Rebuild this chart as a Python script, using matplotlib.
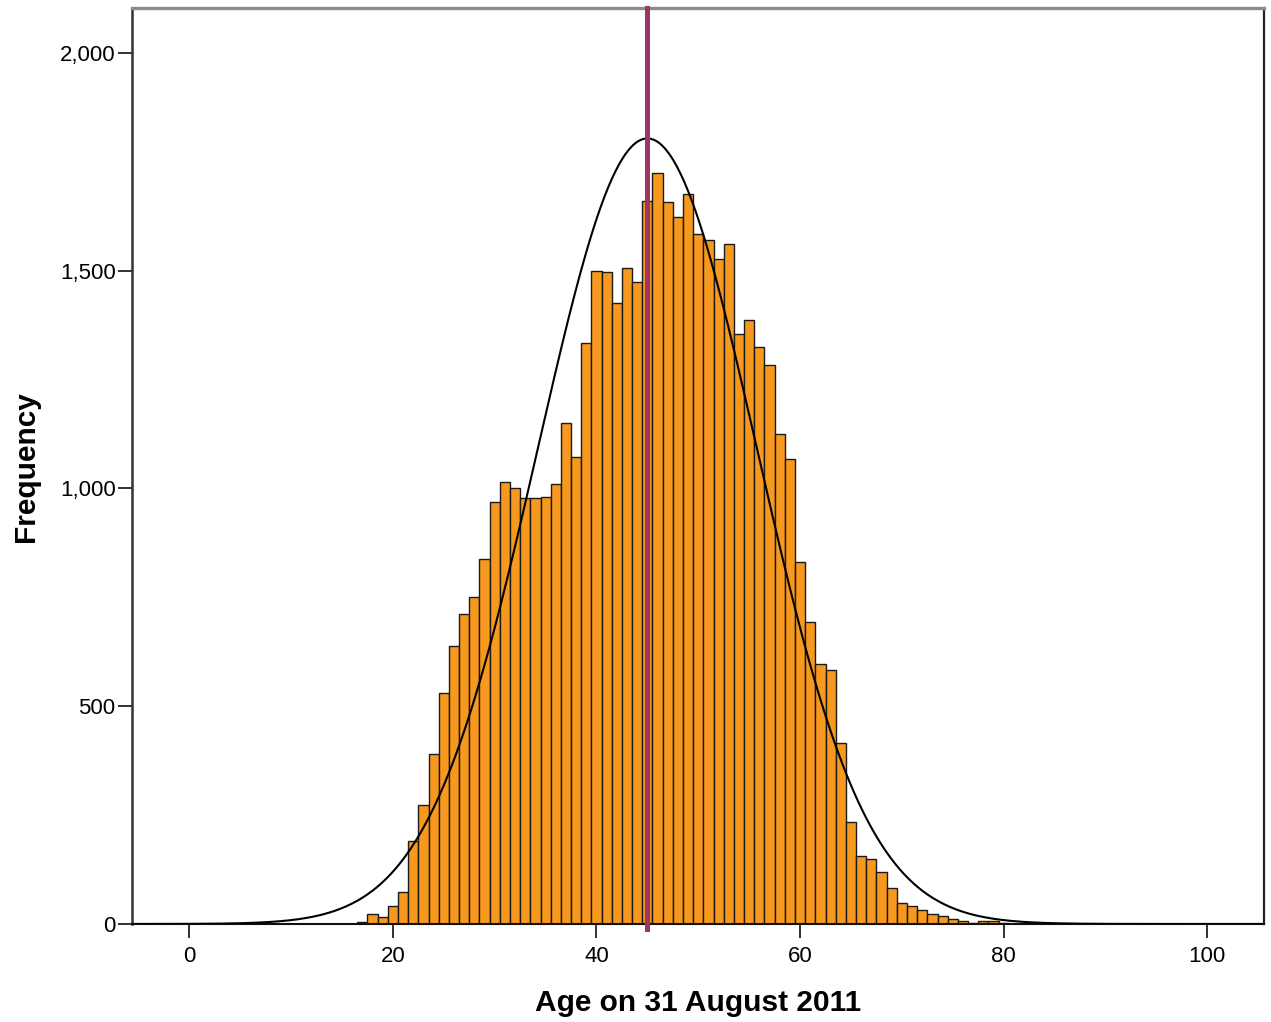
import numpy as np
import matplotlib
matplotlib.use("Agg")
import matplotlib.pyplot as plt
from matplotlib.ticker import FuncFormatter

plt.rcParams['font.family'] = ['Liberation Sans', 'DejaVu Sans']

# age (whole years) and number of people at each age
ages = list(range(17, 86))
counts = [4, 23, 17, 41, 74, 191, 273, 390, 530, 639, 712, 751, 838,
          968, 1015, 1000, 977, 977, 981, 1011,
          1151, 1073, 1333, 1500, 1496, 1425, 1506, 1473,
          1659, 1724, 1657, 1623, 1676, 1584, 1571, 1527, 1561,
          1354, 1387, 1324, 1284, 1124, 1068,
          832, 693, 596, 583, 415, 235, 157, 149, 119, 82,
          48, 41, 32, 23, 18, 11, 8, 2, 8, 8, 2, 1, 1, 0, 0, 0]

mean_age = 45.0
sd_age = 10.74

bar_color = '#F7991E'
mean_color = '#9E3566'

fig = plt.figure(figsize=(12.71, 10.22), dpi=100)
ax = fig.add_axes([0.1041, 0.0959, 0.8906, 0.8958])

ax.bar(ages, counts, width=1.0, color=bar_color, edgecolor='#1a1a1a',
       linewidth=1.0, zorder=2)

# normal curve scaled to the total count (bin width 1)
n_total = sum(counts)
xs = np.linspace(-5.6, 105.6, 600)
ys = n_total / (sd_age * np.sqrt(2 * np.pi)) * np.exp(-0.5 * ((xs - mean_age) / sd_age) ** 2)
ax.plot(xs, ys, color='black', linewidth=1.5, zorder=3)

ax.axvline(mean_age, ymin=-0.006, ymax=1, color=mean_color, linewidth=3.6,
           zorder=4, clip_on=False)

ax.set_xlim(-5.6, 105.6)
ax.set_ylim(0, 2102)
ax.set_xticks([0, 20, 40, 60, 80, 100])
ax.set_yticks([0, 500, 1000, 1500, 2000])
ax.yaxis.set_major_formatter(FuncFormatter(lambda v, p: f'{int(v):,}'))

ax.tick_params(axis='both', direction='out', length=10, width=1.3,
               labelsize=16, colors='#222222', labelcolor='black')
ax.tick_params(axis='x', pad=6)
ax.tick_params(axis='y', pad=2)

ax.spines['left'].set_color('#333333')
ax.spines['left'].set_linewidth(1.8)
ax.spines['bottom'].set_color('#111111')
ax.spines['bottom'].set_linewidth(1.5)
ax.spines['top'].set_color('#8c8c8c')
ax.spines['top'].set_linewidth(2.4)
ax.spines['right'].set_color('#222222')
ax.spines['right'].set_linewidth(1.6)

ax.set_xlabel('Age on 31 August 2011', fontsize=21.5, fontweight='bold', labelpad=16)
ax.set_ylabel('Frequency', fontsize=21.5, fontweight='bold')
ax.yaxis.set_label_coords(-0.0815, 0.5)

fig.savefig('out.png', dpi=100, facecolor='white')
